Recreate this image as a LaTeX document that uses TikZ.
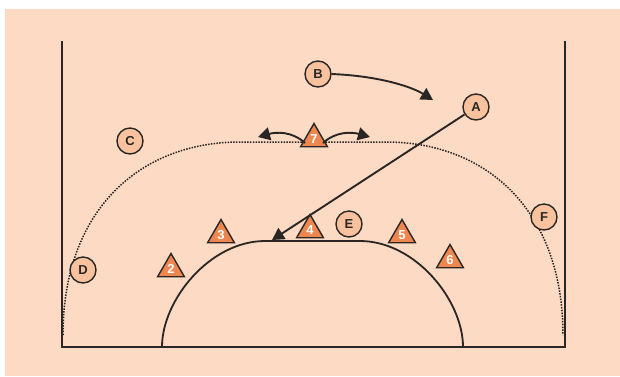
\documentclass[tikz,border=0pt]{standalone}
\usepackage{fontspec}
\setmainfont{Liberation Sans}
\usetikzlibrary{arrows.meta,shapes.geometric}
\definecolor{bgpeach}{HTML}{FCDAC4}
\definecolor{circfill}{HTML}{F9C29F}
\definecolor{trifill}{HTML}{EE8650}
\definecolor{ink}{HTML}{2A2624}
\tikzset{
  court/.style={draw=ink,line width=2.8pt},
  threept/.style={draw=ink,line width=1.5pt,dash pattern=on 1.5pt off 1.3pt},
  player/.style={circle,draw=ink,line width=1.4pt,fill=circfill,minimum size=26pt,inner sep=0pt,font=\bfseries\fontsize{13}{13}\selectfont,text=ink},
  cone/.style={regular polygon,regular polygon sides=3,draw=ink,line width=1.4pt,fill=trifill,minimum size=31pt,inner sep=0pt,font=\bfseries\fontsize{13}{13}\selectfont,text=white},
  move/.style={draw=ink,line width=1.9pt,-{Triangle[length=12pt,width=13pt]}},
}
\begin{document}
\begin{tikzpicture}[x=1pt,y=-1pt]
\useasboundingbox (0,0) rectangle (620,376);
\fill[bgpeach] (5,9) rectangle (620,376);
% court
\draw[court] (62,41) -- (62,347) -- (565,347) -- (565,41);
% three point line
\draw[threept] (63,335) .. controls (63,210) and (140,142) .. (240,142) -- (386,142) .. controls (486,142) and (563,210) .. (563,335);
% key arc
\draw[ink,line width=1.8pt] (162,347) .. controls (162,300) and (210,241) .. (265,241) -- (360,241) .. controls (415,241) and (463,300) .. (463,347);
% players
\node[player] (B) at (318,74) {B};
\node[player] (A) at (476,107) {A};
\node[player] (C) at (130,141) {C};
\node[player] (D) at (83,270) {D};
\node[player] (E) at (349,224) {E};
\node[player] (F) at (544,217) {F};
% cones
\node[cone] (n7) at (314,139) {7};
\node[cone] (n3) at (221,235) {3};
\node[cone] (n4) at (310,230) {4};
\node[cone] (n5) at (402,235) {5};
\node[cone] (n6) at (450,260) {6};
\node[cone] (n2) at (171,269) {2};
% arrow targets
\coordinate (tB) at (433,100);
\coordinate (tA) at (272,240);
\coordinate (tL) at (258,137);
\coordinate (tR) at (370,137);
% movements
\draw[move] (B.east) .. controls (380,76) and (412,87) .. (tB);
\draw[move] (A) -- (tA);
\draw[move] ([xshift=-9pt,yshift=-4pt]n7.center) .. controls (292,131) and (276,132) .. (tL);
\draw[move] ([xshift=9pt,yshift=-4pt]n7.center) .. controls (336,131) and (352,132) .. (tR);
\end{tikzpicture}
\end{document}
